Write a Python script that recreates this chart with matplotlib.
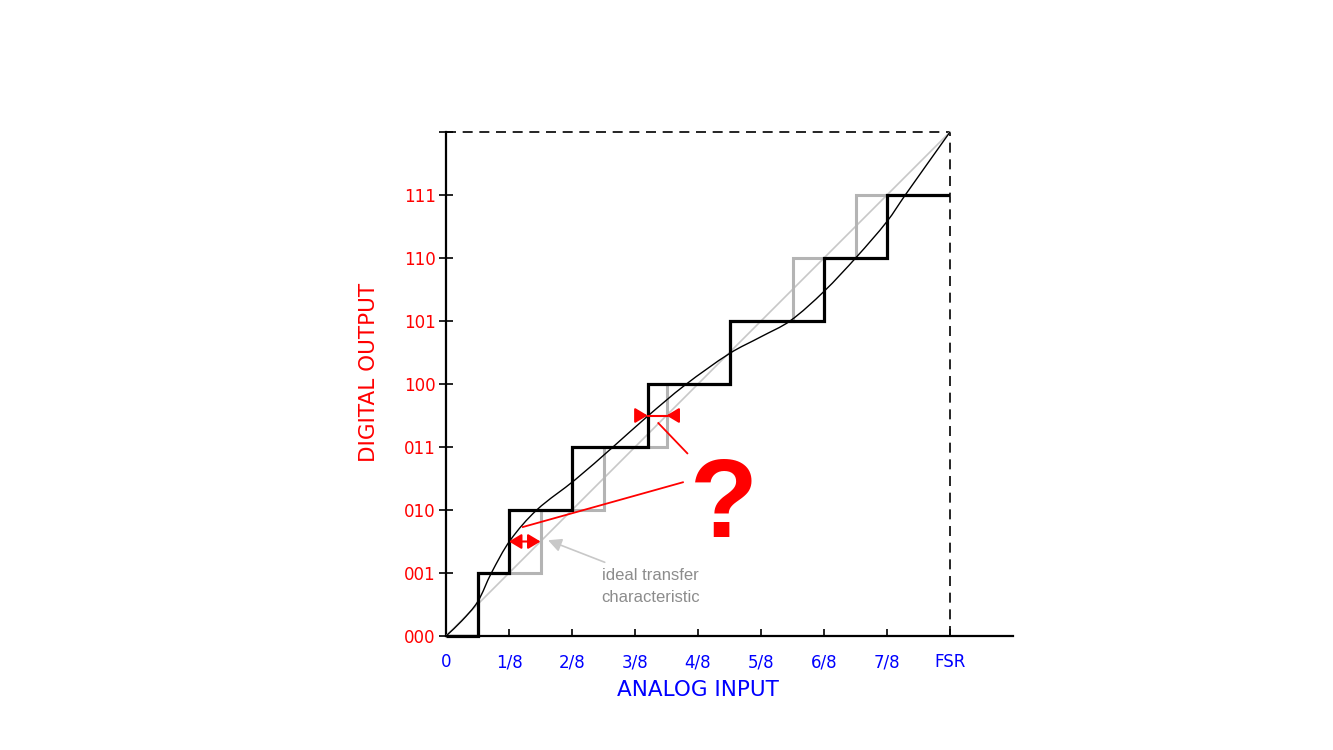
import matplotlib
matplotlib.use("Agg")
import matplotlib.pyplot as plt
from matplotlib.path import Path
from matplotlib.patches import PathPatch, FancyArrowPatch
import numpy as np

plt.rcParams["font.family"] = ["DejaVu Sans"]

# ---- data (x in units of FSR/8, y in output codes) ----
code_labels = ["000", "001", "010", "011", "100", "101", "110", "111"]
x_tick_labels = ["0", "1/8", "2/8", "3/8", "4/8", "5/8", "6/8", "7/8", "FSR"]
codes = [0, 1, 2, 3, 4, 5, 6, 7]
ideal_edges = [0, 0.5, 1.5, 2.5, 3.5, 4.5, 5.5, 6.5, 8]
actual_edges = [0, 0.5, 1.0, 2.0, 3.2, 4.5, 6.0, 7.0, 8]
curve_x = [0, 0.25, 0.5, 0.72, 1.02, 1.44, 2.05, 2.65, 3.19, 3.79, 4.51,
           5.0, 5.46, 6.0, 6.52, 7.0, 7.29, 8]
curve_y = [0, 0.24, 0.54, 1.0, 1.52, 2.0, 2.48, 3.0, 3.48, 3.98, 4.49,
           4.75, 5.0, 5.47, 6.02, 6.58, 7.0, 8]
full_scale = 8

W, H, DPI = 1333, 750, 100
fig = plt.figure(figsize=(W / DPI, H / DPI), dpi=DPI)

# axes geometry: 63 px per unit, origin at pixel (446, 636)
ppu = 63.0
x0_px, y0_px = 446, 636
xmax, ymax = 9.5, 8.6
ax = fig.add_axes([x0_px / W, (H - y0_px) / H, xmax * ppu / W, ymax * ppu / H])
ax.set_xlim(0, xmax)
ax.set_ylim(0, ymax)
for s in ["top", "right"]:
    ax.spines[s].set_visible(False)
ax.spines["left"].set_bounds(0, full_scale)
ax.spines["bottom"].set_bounds(0, 9)
for s in ["left", "bottom"]:
    ax.spines[s].set_linewidth(1.6)
    ax.spines[s].set_zorder(1)

ax.set_xticks(range(len(x_tick_labels)))
ax.set_xticklabels(x_tick_labels, color="#0000ff", fontsize=12)
ax.set_yticks(list(range(9)))
ax.set_yticklabels(code_labels + [""], color="#ff0000", fontsize=12)
ax.tick_params(axis="x", direction="in", length=5, width=1.2, pad=12.5)
ax.tick_params(axis="y", direction="inout", length=10, width=1.2, pad=2.5)

# dashed full-scale box
ax.plot([0, full_scale], [full_scale, full_scale], color="black", lw=1.2,
        dashes=(6, 4), clip_on=False)
ax.plot([full_scale, full_scale], [0, full_scale], color="black", lw=1.2,
        dashes=(6, 4), clip_on=False)

# ideal diagonal
ax.plot([0, full_scale], [0, full_scale], color="#c8c8c8", lw=1.2, zorder=2)
# ideal staircase
ax.stairs(codes, ideal_edges, baseline=None, color="#b4b4b4", lw=2.2, zorder=3)
# actual staircase
ax.stairs(codes, actual_edges, baseline=None, color="black", lw=2.3, zorder=4,
          clip_on=False)

# smooth actual transfer curve (chord-length Hermite -> cubic Bezier)
P = np.column_stack([curve_x, curve_y]).astype(float)
n = len(P)
t = np.concatenate([[0], np.cumsum(np.hypot(*np.diff(P, axis=0).T))])
m = np.zeros_like(P)
m[0] = (P[1] - P[0]) / (t[1] - t[0])
m[-1] = (P[-1] - P[-2]) / (t[-1] - t[-2])
for i in range(1, n - 1):
    m[i] = (P[i + 1] - P[i - 1]) / (t[i + 1] - t[i - 1])
verts = [tuple(P[0])]
cmds = [Path.MOVETO]
for i in range(n - 1):
    h = t[i + 1] - t[i]
    c1 = P[i] + m[i] * h / 3.0
    c2 = P[i + 1] - m[i + 1] * h / 3.0
    verts += [tuple(c1), tuple(c2), tuple(P[i + 1])]
    cmds += [Path.CURVE4] * 3
ax.add_patch(PathPatch(Path(verts, cmds), fill=False, edgecolor="black",
                       lw=1.0, zorder=5))

red = "#ff0000"
astyle = "-|>,head_length=7.5,head_width=4.5"
# red double arrow at code transition 1->2
ax.add_patch(FancyArrowPatch((1.0, 1.5), (1.5, 1.5),
                             arrowstyle="<|-|>,head_length=7.5,head_width=4.5",
                             mutation_scale=1, color=red, lw=1.5,
                             shrinkA=0, shrinkB=0, zorder=6))
# red inward arrows at code transition 3->4
ax.plot([3.2, 3.5], [3.5, 3.5], color=red, lw=1.5, zorder=6)
ax.add_patch(FancyArrowPatch((3.03, 3.5), (3.2, 3.5), arrowstyle=astyle,
                             mutation_scale=1, color=red, lw=1.5,
                             shrinkA=0, shrinkB=0, zorder=6))
ax.add_patch(FancyArrowPatch((3.67, 3.5), (3.5, 3.5), arrowstyle=astyle,
                             mutation_scale=1, color=red, lw=1.5,
                             shrinkA=0, shrinkB=0, zorder=6))
# red pointer lines
ax.plot([1.22, 3.76], [1.73, 2.44], color=red, lw=1.3, zorder=6)
ax.plot([3.37, 3.83], [3.38, 2.90], color=red, lw=1.3, zorder=6)
ax.text(4.41, 1.57, "?", color=red, fontsize=80, fontweight="bold",
        family="Liberation Sans", ha="center", va="baseline", zorder=7)

# ideal transfer characteristic annotation
ax.add_patch(FancyArrowPatch((2.52, 1.17), (1.62, 1.52),
                             arrowstyle="-|>,head_length=8,head_width=4",
                             mutation_scale=1, color="#c8c8c8", lw=1.2,
                             shrinkA=0, shrinkB=0, zorder=6))
ax.text(3.25, (y0_px - 580) / ppu, "ideal transfer", color="#8c8c8c", fontsize=12,
        family="Liberation Sans", ha="center", va="baseline")
ax.text(3.25, (y0_px - 602) / ppu, "characteristic", color="#8c8c8c", fontsize=12,
        family="Liberation Sans", ha="center", va="baseline")

# axis titles
fig.text(698 / W, 1 - 690 / H, "ANALOG INPUT", color="#0000ff", fontsize=15.5,
         ha="center", va="center")
fig.text(369 / W, 1 - 372 / H, "DIGITAL OUTPUT", color="#ff0000", fontsize=15.5,
         ha="center", va="center", rotation=90)

fig.savefig("out.png", dpi=DPI)
